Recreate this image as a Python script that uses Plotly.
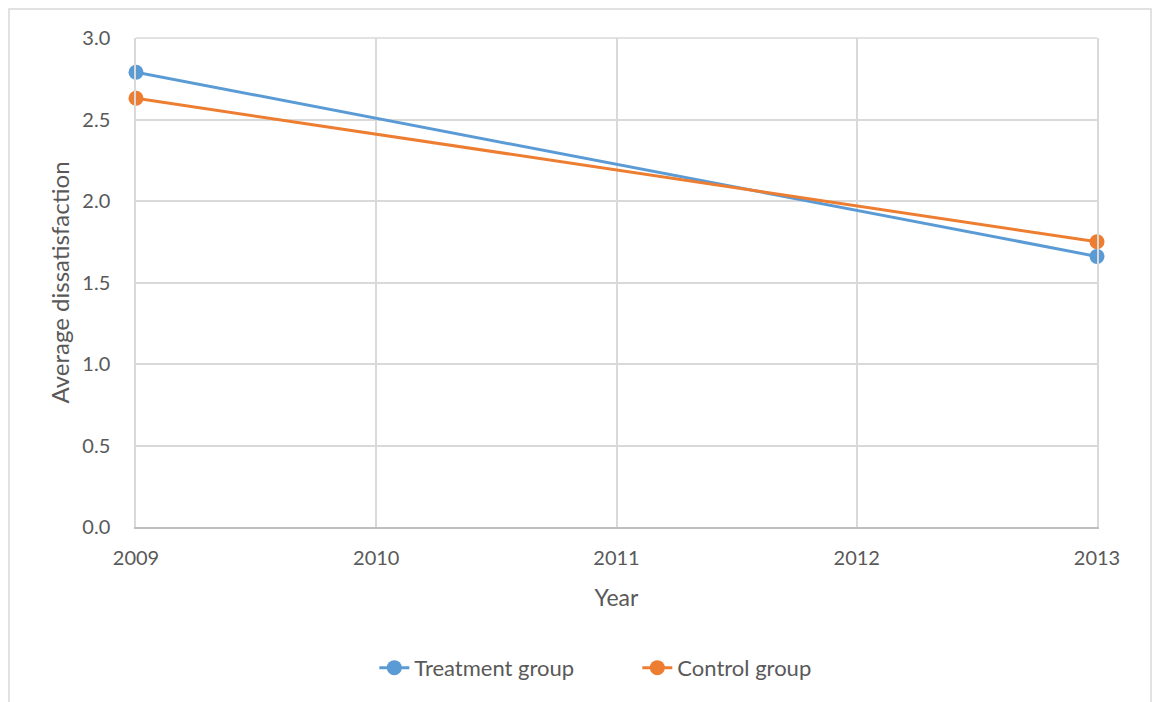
import plotly.graph_objects as go

years = [2009, 2013]
treatment = [2.79, 1.66]
control = [2.63, 1.75]
x_ticks = [2009, 2010, 2011, 2012, 2013]
y_ticks = [0.0, 0.5, 1.0, 1.5, 2.0, 2.5, 3.0]

blue = "#5B9BD5"
orange = "#ED7D31"
text_col = "#595959"
grid_col = "#D9D9D9"
font_family = "Lato, 'Open Sans', sans-serif"

fig = go.Figure()
fig.add_trace(go.Scatter(x=years, y=treatment, name="Treatment group",
                         mode="lines+markers", cliponaxis=False,
                         line=dict(color=blue, width=3),
                         marker=dict(color=blue, size=15)))
fig.add_trace(go.Scatter(x=years, y=control, name="Control group",
                         mode="lines+markers", cliponaxis=False,
                         line=dict(color=orange, width=3),
                         marker=dict(color=orange, size=15)))

fig.update_layout(
    width=1152, height=702,
    margin=dict(l=136, r=55, t=38, b=175),
    paper_bgcolor="white", plot_bgcolor="white",
    font=dict(family=font_family, size=20, color=text_col),
    showlegend=True,
    legend=dict(orientation="h", x=0.248, xanchor="left", y=-0.288, yanchor="middle",
                font=dict(size=22, color=text_col), entrywidth=218,
                tracegroupgap=0),
    xaxis=dict(
        range=[2009, 2013], tickvals=x_ticks, ticktext=[str(v) for v in x_ticks],
        showgrid=True, gridcolor=grid_col, gridwidth=1.5,
        showline=True, linecolor="#BFBFBF", linewidth=1.5,
        ticks="outside", ticklen=12, tickcolor="rgba(0,0,0,0)",
        tickfont=dict(size=20),
        zeroline=False,
        title=dict(text="Year", font=dict(size=23, color=text_col), standoff=22),
    ),
    yaxis=dict(
        range=[0, 3.0], tickvals=y_ticks, ticktext=[f"{v:.1f}" for v in y_ticks],
        showgrid=True, gridcolor=grid_col, gridwidth=1.5,
        showline=True, linecolor=grid_col, linewidth=1.5, mirror=True,
        ticks="outside", ticklen=20, tickcolor="rgba(0,0,0,0)",
        tickfont=dict(size=20),
        zeroline=False,
        title=dict(text="Average dissatisfaction", font=dict(size=24, color=text_col), standoff=6),
    ),
    shapes=[
        dict(type="line", xref="paper", yref="paper", x0=0, x1=1, y0=1, y1=1,
             line=dict(color=grid_col, width=1.5), layer="below"),
        dict(type="rect", xref="paper", yref="paper",
             x0=-0.1322, x1=1.0562, y0=-0.37, y1=1.0593,
             line=dict(color=grid_col, width=1.5), layer="below"),
    ],
)

fig.write_html("out.html")
